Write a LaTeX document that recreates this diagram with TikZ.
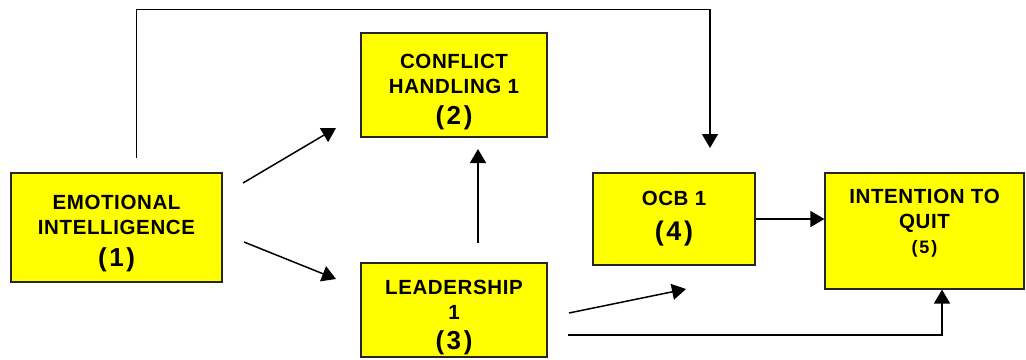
\documentclass[tikz,border=0pt]{standalone}
\usepackage{fontspec}
\setmainfont{Liberation Sans}[LetterSpace=3]
\usepackage{tikz}
\usetikzlibrary{arrows.meta}
\usepackage{xcolor}
\definecolor{boxyellow}{RGB}{255,255,0}
\newcommand{\boxnum}[2][26]{{\fontsize{#1}{28}\selectfont\addfontfeature{LetterSpace=10}#2}}

\begin{document}
\begin{tikzpicture}[x=1pt, y=-1pt,
		box/.style={draw=black!85, line width=1.2pt, fill=boxyellow, inner sep=0pt, align=center, font=\bfseries\fontsize{20.5}{25}\selectfont},
		arr/.style={line width=1.5pt, -{Triangle[length=14pt,width=16pt]}}]
	\useasboundingbox (0,0) rectangle (1026,359);
	\node[box, minimum width=211pt, minimum height=109pt] (emo) at (116.5, 227.5) {\rule{0pt}{27pt}EMOTIONAL\\INTELLIGENCE\\[7pt]\boxnum{(1)}};
	\node[box, minimum width=186pt, minimum height=104pt] (conf) at (454, 85) {\rule{0pt}{28pt}CONFLICT\\HANDLING 1\\[6pt]\boxnum{(2)}};
	\node[box, minimum width=186pt, minimum height=94pt] (lead) at (454, 310) {\rule{0pt}{29pt}LEADERSHIP\\1\\[5pt]\boxnum{(3)}};
	\node[box, minimum width=162pt, minimum height=92pt] (ocb) at (674, 219) {OCB 1\\[10pt]\boxnum[27]{(4)}};
	\node[box, minimum width=199pt, minimum height=116pt] (quit) at (924.5, 231) {INTENTION TO\\QUIT\\\boxnum[18]{(5)}\\[-6pt]\mbox{}};
	% free ends of the arrows
	\coordinate (emoA) at (243, 183);
	\coordinate (emoB) at (244, 242);
	\coordinate (confIn) at (336, 128);
	\coordinate (leadIn) at (336, 279);
	\coordinate (leadUp) at (478, 243);
	\coordinate (confUp) at (478, 149);
	\coordinate (topS) at (136.5, 158);
	\coordinate (ocbIn) at (710, 148);
	\coordinate (leadR) at (569, 313);
	\coordinate (ocbB) at (686, 289);
	\coordinate (leadQ) at (568, 335);
	\draw[arr] (emoA) -- (confIn);
	\draw[arr] (emoB) -- (leadIn);
	\draw[arr] (leadUp) -- (confUp);
	\draw[arr] (topS) -- (136.5, 9.5) -| (ocbIn);
	\draw[arr] (leadR) -- (ocbB);
	\draw[arr] (ocb.east) -- (ocb.east -| quit.west);
	\draw[arr] (leadQ) -| (942, 0 |- quit.south);
\end{tikzpicture}
\end{document}
